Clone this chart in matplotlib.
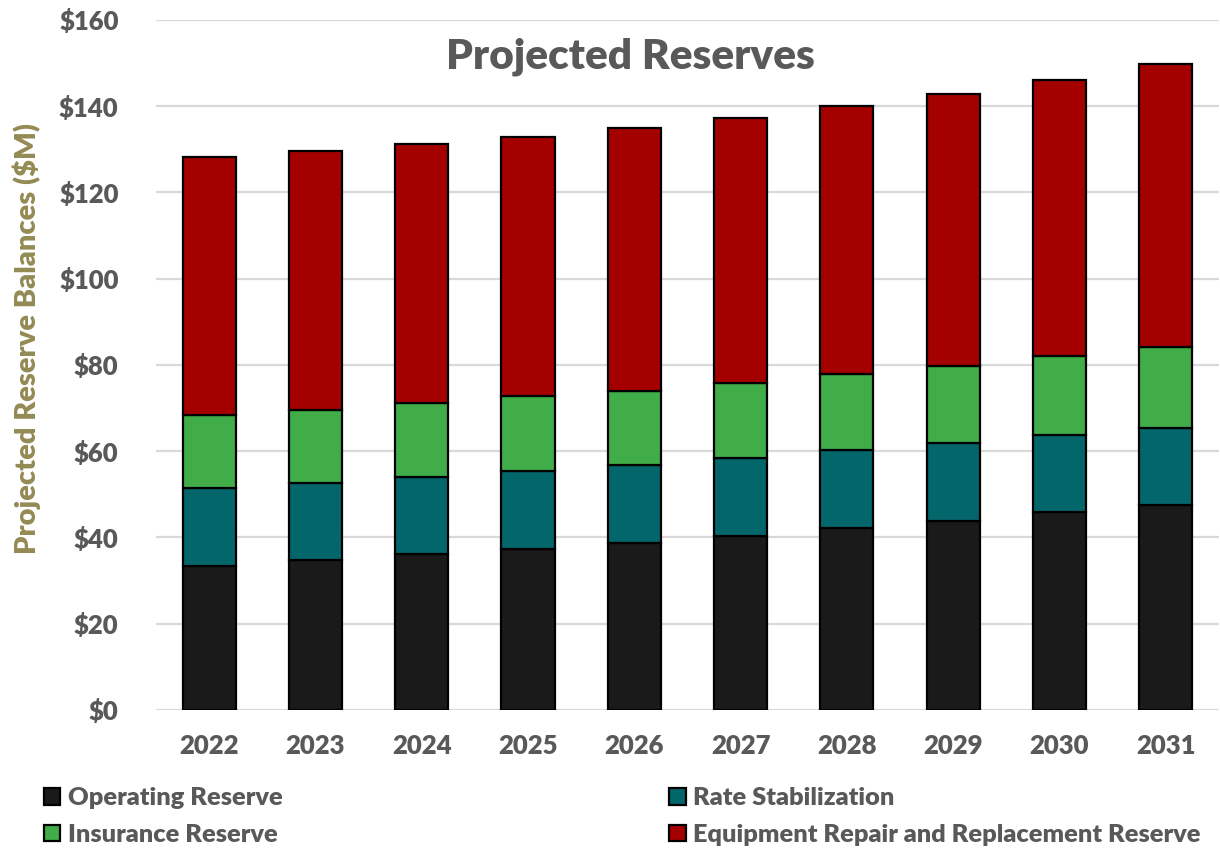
import matplotlib
matplotlib.use("Agg")
import matplotlib.pyplot as plt
import numpy as np

years = ["2022", "2023", "2024", "2025", "2026", "2027", "2028", "2029", "2030", "2031"]
operating = [33.5, 34.7, 36.1, 37.4, 38.8, 40.3, 42.1, 43.9, 45.8, 47.5]
rate_stab = [17.9, 18.0, 18.0, 18.1, 17.9, 18.1, 18.1, 18.0, 18.0, 18.0]
insurance = [17.0, 16.9, 17.0, 17.2, 17.3, 17.4, 17.6, 17.9, 18.2, 18.7]
equipment = [59.8, 60.1, 60.1, 60.2, 60.9, 61.4, 62.2, 63.1, 64.2, 65.5]
y_ticks = [0, 20, 40, 60, 80, 100, 120, 140, 160]

plt.rcParams["font.family"] = ["Lato", "DejaVu Sans"]
TEXT = "#595959"
WEIGHT = "heavy"

fig = plt.figure(figsize=(12.2, 8.51), dpi=100)
ax = fig.add_axes([0.1279, 0.1657, 0.8711, 0.8108])

x = np.arange(len(years))
w = 0.5
edge = dict(edgecolor="black", linewidth=1.6, zorder=3)
b1 = ax.bar(x, operating, w, color="#1A1A1A", label="Operating Reserve", **edge)
base = np.array(operating)
b2 = ax.bar(x, rate_stab, w, bottom=base, color="#03666A", label="Rate Stabilization", **edge)
base = base + np.array(rate_stab)
b3 = ax.bar(x, insurance, w, bottom=base, color="#41AD49", label="Insurance Reserve", **edge)
base = base + np.array(insurance)
b4 = ax.bar(x, equipment, w, bottom=base, color="#A50000",
            label="Equipment Repair and Replacement Reserve", **edge)

ax.set_xlim(-0.5, len(years) - 0.5)
ax.set_ylim(0, 160)
ax.set_yticks(y_ticks)
ax.set_yticklabels([f"${v}" for v in y_ticks])
ax.set_xticks(x)
ax.set_xticklabels(years)
ax.tick_params(axis="both", length=0, labelsize=18.5, labelcolor=TEXT)
ax.tick_params(axis="y", pad=27)
ax.tick_params(axis="x", pad=17)
for lab in ax.get_xticklabels() + ax.get_yticklabels():
    lab.set_fontweight(WEIGHT)
for s in ax.spines.values():
    s.set_visible(False)
ax.yaxis.grid(True, color="#D9D9D9", linewidth=1.6, zorder=0)
ax.set_axisbelow(True)

ax.set_ylabel("Projected Reserve Balances ($M)", fontsize=21, fontweight=WEIGHT,
              color="#948A54")
ax.yaxis.set_label_coords(-0.108, 0.539)

fig.text(0.517, 0.933, "Projected Reserves", ha="center", va="center",
         fontsize=30.5, fontweight=WEIGHT, color=TEXT)

leg = fig.legend([b1, b3, b2, b4],
                 ["Operating Reserve", "Insurance Reserve", "Rate Stabilization",
                  "Equipment Repair and Replacement Reserve"],
                 ncol=2, loc="upper left", bbox_to_anchor=(0.036, 0.075),
                 frameon=False, fontsize=18.3, handlelength=0.65, handleheight=0.65,
                 handletextpad=0.3, columnspacing=15.2, labelspacing=0.58,
                 borderaxespad=0, borderpad=0)
for t in leg.get_texts():
    t.set_color(TEXT)
    t.set_fontweight(WEIGHT)

fig.savefig("out.png", dpi=100)
